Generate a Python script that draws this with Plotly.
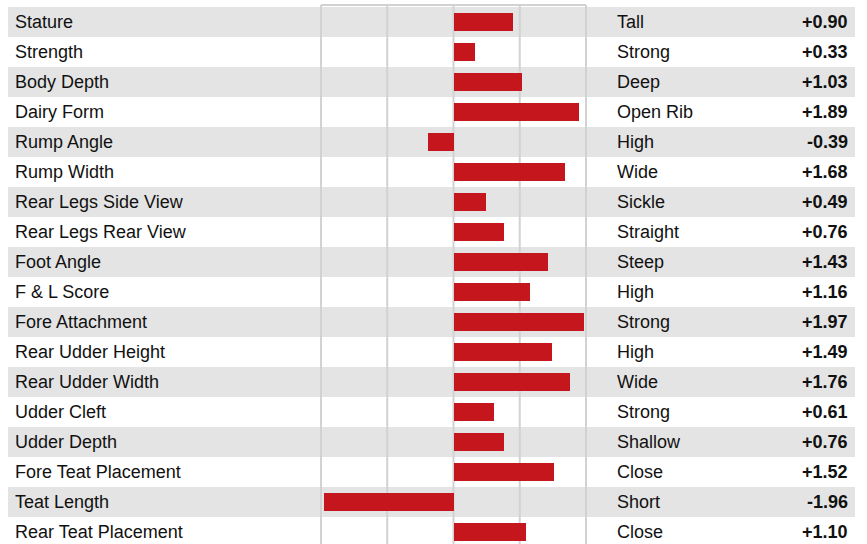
import plotly.graph_objects as go

traits = ["Stature", "Strength", "Body Depth", "Dairy Form", "Rump Angle", "Rump Width",
          "Rear Legs Side View", "Rear Legs Rear View", "Foot Angle", "F & L Score",
          "Fore Attachment", "Rear Udder Height", "Rear Udder Width", "Udder Cleft",
          "Udder Depth", "Fore Teat Placement", "Teat Length", "Rear Teat Placement"]
descriptors = ["Tall", "Strong", "Deep", "Open Rib", "High", "Wide", "Sickle", "Straight",
               "Steep", "High", "Strong", "High", "Wide", "Strong", "Shallow", "Close",
               "Short", "Close"]
values = [0.90, 0.33, 1.03, 1.89, -0.39, 1.68, 0.49, 0.76, 1.43, 1.16, 1.97, 1.49,
          1.76, 0.61, 0.76, 1.52, -1.96, 1.10]
grid_ticks = [-2, -1, 0, 1, 2]

W, H = 867, 544
px_per_unit = 66.25
x_left_px = 321
xmin = -2 - x_left_px / px_per_unit
xmax = xmin + W / px_per_unit
row_h = 30
y_top = -22 / row_h
y_bot = y_top + H / row_h

n = len(traits)
idx = list(range(n))

fig = go.Figure()
fig.add_trace(go.Bar(
    x=values, y=idx, orientation="h", width=0.6,
    marker=dict(color="#c4161c", line=dict(width=0)),
    hoverinfo="skip",
))

shapes = []
for i in idx:
    if i % 2 == 0:
        shapes.append(dict(type="rect", xref="paper", yref="y",
                           x0=8 / W, x1=855 / W, y0=i - 0.5, y1=i + 0.5,
                           fillcolor="#e4e4e4", line=dict(width=0), layer="below"))
top_y = y_top + 5 / row_h
for t in grid_ticks:
    shapes.append(dict(type="line", xref="x", yref="y", x0=t, x1=t,
                       y0=top_y, y1=y_bot + 1, line=dict(color="#d2d2d2", width=2),
                       layer="below"))
shapes.append(dict(type="line", xref="x", yref="y", x0=-2, x1=2, y0=top_y, y1=top_y,
                   line=dict(color="#d2d2d2", width=2), layer="below"))

annotations = []
font = dict(family="Liberation Sans, Arial, sans-serif", size=18, color="#111111")
for i in idx:
    annotations.append(dict(xref="paper", yref="y", x=13 / W, y=i, text=traits[i],
                            showarrow=False, xanchor="left", yanchor="middle", font=font))
    annotations.append(dict(xref="paper", yref="y", x=615 / W, y=i, text=descriptors[i],
                            showarrow=False, xanchor="left", yanchor="middle", font=font))
    v = values[i]
    vt = f"+{v:.2f}" if v >= 0 else f"{v:.2f}"
    annotations.append(dict(xref="paper", yref="y", x=850 / W, y=i, text=f"<b>{vt}</b>",
                            showarrow=False, xanchor="right", yanchor="middle", font=font))

fig.update_layout(
    width=W, height=H,
    margin=dict(l=0, r=0, t=0, b=0),
    paper_bgcolor="white", plot_bgcolor="white",
    showlegend=False,
    shapes=shapes, annotations=annotations,
    xaxis=dict(range=[xmin, xmax], visible=False, showgrid=False, zeroline=False, fixedrange=True),
    yaxis=dict(range=[y_bot, y_top], visible=False, showgrid=False, zeroline=False, fixedrange=True),
    bargap=0,
)
fig.write_html("out.html", config={"displayModeBar": False},
               post_script="document.body.style.margin='0';document.body.style.overflow='hidden';")
